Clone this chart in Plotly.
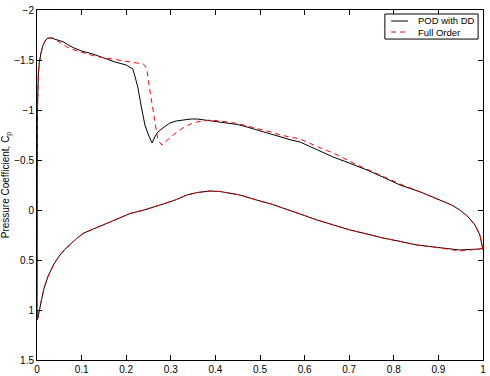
import plotly.graph_objects as go

# Lower surface (trailing edge -> leading edge), shared by both series
x_low = [1.0, 0.993, 0.97, 0.948, 0.919, 0.885, 0.852, 0.815, 0.776, 0.74, 0.702, 0.665,
         0.628, 0.59, 0.552, 0.525, 0.5, 0.478, 0.455, 0.43, 0.41, 0.388, 0.36, 0.336,
         0.31, 0.276, 0.24, 0.209, 0.19, 0.164, 0.14, 0.119, 0.105, 0.09, 0.075, 0.061,
         0.05, 0.038, 0.025, 0.016, 0.01, 0.006, 0.003, 0.001]
cp_low_pod = [0.38, 0.39, 0.395, 0.40, 0.385, 0.37, 0.35, 0.315, 0.28, 0.24, 0.20, 0.15,
              0.10, 0.04, -0.02, -0.06, -0.09, -0.12, -0.15, -0.17, -0.185, -0.19, -0.175, -0.15,
              -0.10, -0.05, 0.00, 0.035, 0.07, 0.12, 0.16, 0.20, 0.23, 0.28, 0.34, 0.40,
              0.46, 0.54, 0.66, 0.78, 0.90, 1.00, 1.08, 1.10]
cp_low_fo = [0.38, 0.39, 0.40, 0.41, 0.39, 0.37, 0.35, 0.315, 0.28, 0.24, 0.20, 0.15,
             0.10, 0.04, -0.02, -0.06, -0.09, -0.12, -0.15, -0.17, -0.185, -0.19, -0.175, -0.15,
             -0.10, -0.05, 0.00, 0.035, 0.07, 0.12, 0.16, 0.20, 0.23, 0.28, 0.34, 0.40,
             0.46, 0.54, 0.66, 0.78, 0.90, 1.00, 1.08, 1.10]

# Upper surface (leading edge -> trailing edge), POD with DD
x_up_pod = [0.0, 0.0, 0.001, 0.003, 0.005, 0.009, 0.013, 0.018, 0.024, 0.032, 0.04, 0.05,
            0.06, 0.07, 0.083, 0.1, 0.125, 0.15, 0.175, 0.2, 0.209, 0.215, 0.22, 0.226,
            0.234, 0.242, 0.25, 0.258, 0.264, 0.271, 0.285, 0.298, 0.312, 0.327, 0.345,
            0.359, 0.375, 0.388, 0.41, 0.43, 0.45, 0.471, 0.5, 0.525, 0.545, 0.57, 0.59,
            0.625, 0.664, 0.70, 0.74, 0.78, 0.814, 0.86, 0.904, 0.93, 0.948, 0.965, 0.982,
            0.993, 1.0]
cp_up_pod = [1.0, 0.0, -1.0, -1.35, -1.47, -1.57, -1.64, -1.69, -1.72, -1.72, -1.71, -1.70,
             -1.68, -1.65, -1.62, -1.59, -1.56, -1.52, -1.48, -1.45, -1.43, -1.41, -1.33, -1.23,
             -1.03, -0.85, -0.75, -0.67, -0.73, -0.78, -0.83, -0.87, -0.89, -0.90, -0.91,
             -0.91, -0.90, -0.89, -0.88, -0.87, -0.855, -0.83, -0.79, -0.76, -0.73, -0.70, -0.68,
             -0.61, -0.53, -0.47, -0.40, -0.32, -0.25, -0.18, -0.10, -0.05, 0.0, 0.06, 0.15,
             0.25, 0.40]

# Upper surface, Full Order
x_up_fo = [0.0, 0.0, 0.001, 0.003, 0.005, 0.009, 0.013, 0.018, 0.024, 0.03, 0.036, 0.05,
           0.067, 0.083, 0.104, 0.125, 0.14, 0.16, 0.179, 0.209, 0.238, 0.243, 0.247, 0.253,
           0.26, 0.266, 0.271, 0.28, 0.29, 0.305, 0.327, 0.345, 0.359, 0.388, 0.41, 0.43,
           0.45, 0.471, 0.5, 0.525, 0.545, 0.57, 0.59, 0.625, 0.664, 0.709, 0.74, 0.78,
           0.814, 0.86, 0.904, 0.93, 0.948, 0.965, 0.982, 0.993, 1.0]
cp_up_fo = [1.0, 0.0, -1.0, -1.35, -1.47, -1.57, -1.64, -1.69, -1.71, -1.72, -1.72, -1.68,
            -1.63, -1.60, -1.57, -1.545, -1.53, -1.515, -1.50, -1.48, -1.46, -1.44, -1.38, -1.20,
            -1.00, -0.82, -0.70, -0.65, -0.69, -0.75, -0.82, -0.86, -0.88, -0.90, -0.89, -0.88,
            -0.865, -0.84, -0.81, -0.78, -0.75, -0.73, -0.71, -0.64, -0.57, -0.47, -0.41, -0.33,
            -0.26, -0.18, -0.10, -0.05, 0.0, 0.06, 0.15, 0.25, 0.40]

x_ticks = [0, 0.1, 0.2, 0.3, 0.4, 0.5, 0.6, 0.7, 0.8, 0.9, 1]
x_ticktext = ["0", "0.1", "0.2", "0.3", "0.4", "0.5", "0.6", "0.7", "0.8", "0.9", "1"]
y_ticks = [-2, -1.5, -1, -0.5, 0, 0.5, 1, 1.5]
y_ticktext = ["\u22122", "\u22121.5", "\u22121", "\u22120.5", "0", "0.5", "1", "1.5"]
series_names = ["POD with DD", "Full Order"]
series_colors = ["black", "red"]
series_dash = ["solid", "5px,4px"]

FONT = "Liberation Sans, Arial, Helvetica, sans-serif"

fig = go.Figure()
fig.add_trace(go.Scatter(x=x_low + x_up_pod, y=cp_low_pod + cp_up_pod, mode="lines",
                         name=series_names[0], showlegend=False,
                         line=dict(color=series_colors[0], width=1, dash=series_dash[0])))
fig.add_trace(go.Scatter(x=x_low + x_up_fo, y=cp_low_fo + cp_up_fo, mode="lines",
                         name=series_names[1], showlegend=False,
                         line=dict(color=series_colors[1], width=1, dash=series_dash[1])))

# Compact boxed legend (paper coordinates)
lx0, lx1, ly0, ly1 = 0.780, 0.989, 0.917, 0.9886
row_y = [0.9686, 0.9371]
shapes = [dict(type="rect", xref="paper", yref="paper", x0=lx0, x1=lx1, y0=ly0, y1=ly1,
               line=dict(color="black", width=1), fillcolor="white", layer="above")]
annotations = []
for i in range(2):
    shapes.append(dict(type="line", xref="paper", yref="paper", x0=0.794, x1=0.832,
                       y0=row_y[i], y1=row_y[i], layer="above",
                       line=dict(color=series_colors[i], width=1, dash=series_dash[i])))
    annotations.append(dict(xref="paper", yref="paper", x=0.849, y=row_y[i],
                            xanchor="left", yanchor="middle", showarrow=False,
                            text=series_names[i],
                            font=dict(family=FONT, size=9.5, color="black")))

fig.update_layout(
    width=490, height=376,
    margin=dict(l=37, r=7, t=10, b=16),
    paper_bgcolor="white", plot_bgcolor="white",
    font=dict(family=FONT, size=10, color="black"),
    showlegend=False,
    shapes=shapes,
    annotations=annotations,
)
fig.update_xaxes(range=[0, 1], tickvals=x_ticks, ticktext=x_ticktext,
                 ticks="inside", ticklen=5, tickcolor="black",
                 showline=True, linecolor="black", linewidth=1, mirror="ticks",
                 showgrid=False, zeroline=False, automargin=False)
fig.update_yaxes(range=[1.5, -2], tickvals=y_ticks, ticktext=y_ticktext,
                 ticks="inside", ticklen=5, tickcolor="black",
                 showline=True, linecolor="black", linewidth=1, mirror="ticks",
                 showgrid=False, zeroline=False,
                 title=dict(text="Pressure Coefficient, C<sub>p</sub>", standoff=4,
                            font=dict(size=10)),
                 automargin=False)

fig.write_html("out.html")
